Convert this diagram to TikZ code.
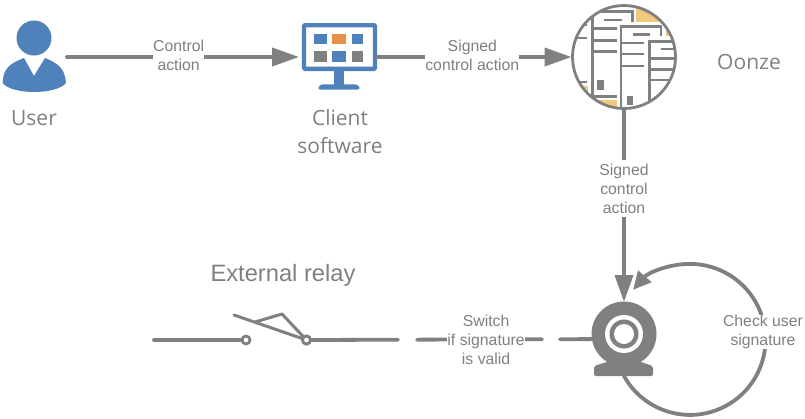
\documentclass[tikz,border=0pt]{standalone}
\usepackage{fontspec}
\setmainfont{Liberation Sans}
\newfontfamily\headfont{Open Sans}
\usetikzlibrary{arrows.meta}
\definecolor{iconblue}{HTML}{4F81BA}
\definecolor{icongray}{HTML}{808080}
\definecolor{iconorange}{HTML}{E8914A}
\definecolor{mazeyellow}{HTML}{EFC97E}
\tikzset{
	iconbox/.style={inner sep=0pt, outer sep=0pt},
	flow/.style={draw=icongray, line width=3.8pt, line cap=round},
	flowtip/.style={-{Triangle[length=27pt,width=18pt]}},
	flowlabel/.style={fill=white, inner sep=0pt, outer sep=0pt, text=icongray, align=center, font=\fontsize{15.8}{19}\selectfont},
	headtext/.style={inner sep=0pt, text=icongray, align=center, font=\headfont\fontsize{21}{28}\selectfont},
	mazeline/.style={draw=icongray, line width=2.9pt},
	mazethin/.style={draw=icongray, line width=2.2pt},
}
\begin{document}
\begin{tikzpicture}[x=1pt,y=1pt]
	\useasboundingbox (0,-418) rectangle (805,0);

	% icon nodes
	\node [iconbox, minimum width=66pt, minimum height=70pt] (user) at (34,-57) {};
	\node [iconbox, minimum width=75pt, minimum height=67pt] (client) at (339.5,-57) {};
	\node [iconbox, circle, minimum size=105pt] (oonze) at (624,-57) {};
	\node [iconbox, minimum width=65pt, minimum height=74pt] (webcam) at (624,-339) {};
	\node [iconbox, circle, draw=icongray, line width=2.8pt, fill=white, minimum size=8pt] (relayin) at (246,-340) {};
	\node [iconbox, circle, draw=icongray, line width=2.8pt, fill=white, minimum size=8pt] (relayout) at (306.5,-340) {};
	\coordinate (relayfree) at (154,-340);
	\coordinate (armend) at (234,-315);
	\coordinate (armknee) at (282,-314);
	\coordinate (armfoot) at (255,-322);

	% user
	\fill [iconblue] (34,-38) circle (17.5);
	\fill [iconblue] (2.7,-83) .. controls (3,-70) and (8,-64) .. (24,-58) -- (34,-76) -- (45,-58)
		.. controls (60,-64) and (65,-70) .. (66,-83) .. controls (56,-95) and (12,-95) .. (2.7,-83) -- cycle;

	% client software
	\draw [iconblue, line width=4.4pt, rounded corners=1pt, fill=white] (304,-25.2) rectangle (375,-68.8);
	\fill [iconblue] (314.3,-34) rectangle (326.7,-44.3);
	\fill [iconorange] (332.3,-34) rectangle (345.7,-44.3);
	\fill [iconblue] (351.7,-34) rectangle (363.3,-44.3);
	\fill [icongray] (314.3,-50.7) rectangle (326.7,-61.7);
	\fill [iconblue] (332.3,-50.7) rectangle (345.7,-61.7);
	\fill [icongray] (351.7,-50.7) rectangle (363.3,-61.7);
	\fill [iconblue] (334,-70) rectangle (344.3,-85);
	\fill [iconblue, rounded corners=3pt] (317.3,-89.5) -- (320,-84.3) -- (358,-84.3) -- (360.7,-89.5) -- cycle;

	% oonze
	\begin{scope}
		\clip (oonze.center) circle (52);
		\fill [mazeyellow] (636,0) rectangle (662,-21.7);
		\fill [mazeyellow] (665.5,-28) rectangle (680,-36);
		\fill [mazeyellow] (581,-86) rectangle (588,-100);
		\fill [mazeyellow] (595,-100) rectangle (616.7,-112);
		\draw [mazeline] (592.3,-100) -- (592.3,-11.7) -- (632.7,-11.7) -- (632.7,-21.7);
		\draw [mazeline] (621,-110) -- (621,-26.7) -- (661,-26.7) -- (661,-36);
		\draw [mazeline] (649.3,-104) -- (649.3,-41.7) -- (680,-41.7);
		\foreach \ribY in {28.3,40.7,51.7,96.7}
			\draw [mazeline] (592.3,-\ribY) -- (616.7,-\ribY);
		\foreach \ribY in {42.7,54.3,66}
			\draw [mazethin] (621,-\ribY) -- (644.3,-\ribY);
		\foreach \ribY in {58.3,69.3,80}
			\draw [mazeline] (649.3,-\ribY) -- (680,-\ribY);
		\foreach \ribY in {25,37.7,81.7}
			\draw [mazethin] (570,-\ribY) -- (587,-\ribY);
		\draw [mazeline] (660.7,-49) -- (680,-49);
		\draw [mazethin] (604,-20) -- (621.7,-20);
		\draw [mazeline] (632.7,-34.3) -- (650,-34.3);
		\fill [icongray] (597.3,-80) rectangle (604,-90);
		\fill [icongray] (626.7,-95.7) rectangle (633.3,-105);
	\end{scope}
	\draw [icongray, line width=2.8pt] (oonze.center) circle (51.5);

	% webcam
	\fill [icongray] (624,-334) circle (32.5);
	\fill [icongray, rounded corners=2pt] (594,-376) -- (594,-366) -- (610,-361) -- (638,-361) -- (653,-366) -- (653,-376) -- cycle;
	\fill [white] (624,-334) circle (19);
	\fill [icongray] (624,-334) circle (14.5);
	\fill [white] (624,-334) circle (10);

	% relay
	\draw [flow] (relayfree) -- (relayin);
	\draw [icongray, line width=3pt, line cap=round] (armend) -- (relayout.center);
	\draw [icongray, line width=3pt, line join=round] (armfoot) -- (armknee) -- (relayout.center);
	\node [iconbox, circle, draw=icongray, line width=2.8pt, fill=white, minimum size=8pt] at (relayout) {};

	% connectors
	\draw [flow, flowtip, shorten >=3pt] (user) -- node [flowlabel, pos=.475, yshift=1.5pt] {Control\\action} (client);
	\draw [flow, flowtip] (client) -- node [flowlabel, pos=.49, yshift=1.5pt] {Signed\\control action} (oonze);
	\draw [flow, flowtip] (oonze) -- node [flowlabel, pos=.41, inner ysep=4pt] {Signed\\control\\action} (webcam);
	\draw [flow, dash pattern=on 87.5pt off 19pt on 125pt off 18pt on 40pt] (relayout) -- node [flowlabel, pos=.625] {Switch\\if signature\\is valid} (webcam);
	\draw [flow, -{Triangle[length=18pt,width=17pt]}] (webcam.south) arc [start angle=209, end angle=499, radius=75.5pt];
	\node [flowlabel] (checksig) at (763,-332) {Check user\\signature};

	% captions
	\node [headtext] (userlabel) at (34,-118) {User};
	\node [headtext] (clientlabel) at (340,-132) {Client\\software};
	\node [headtext] (oonzelabel) at (749,-62) {Oonze};
	\node [text=icongray, inner sep=0pt, font=\fontsize{23.7}{28}\selectfont] (relaylabel) at (283,-275) {External relay};
\end{tikzpicture}
\end{document}
